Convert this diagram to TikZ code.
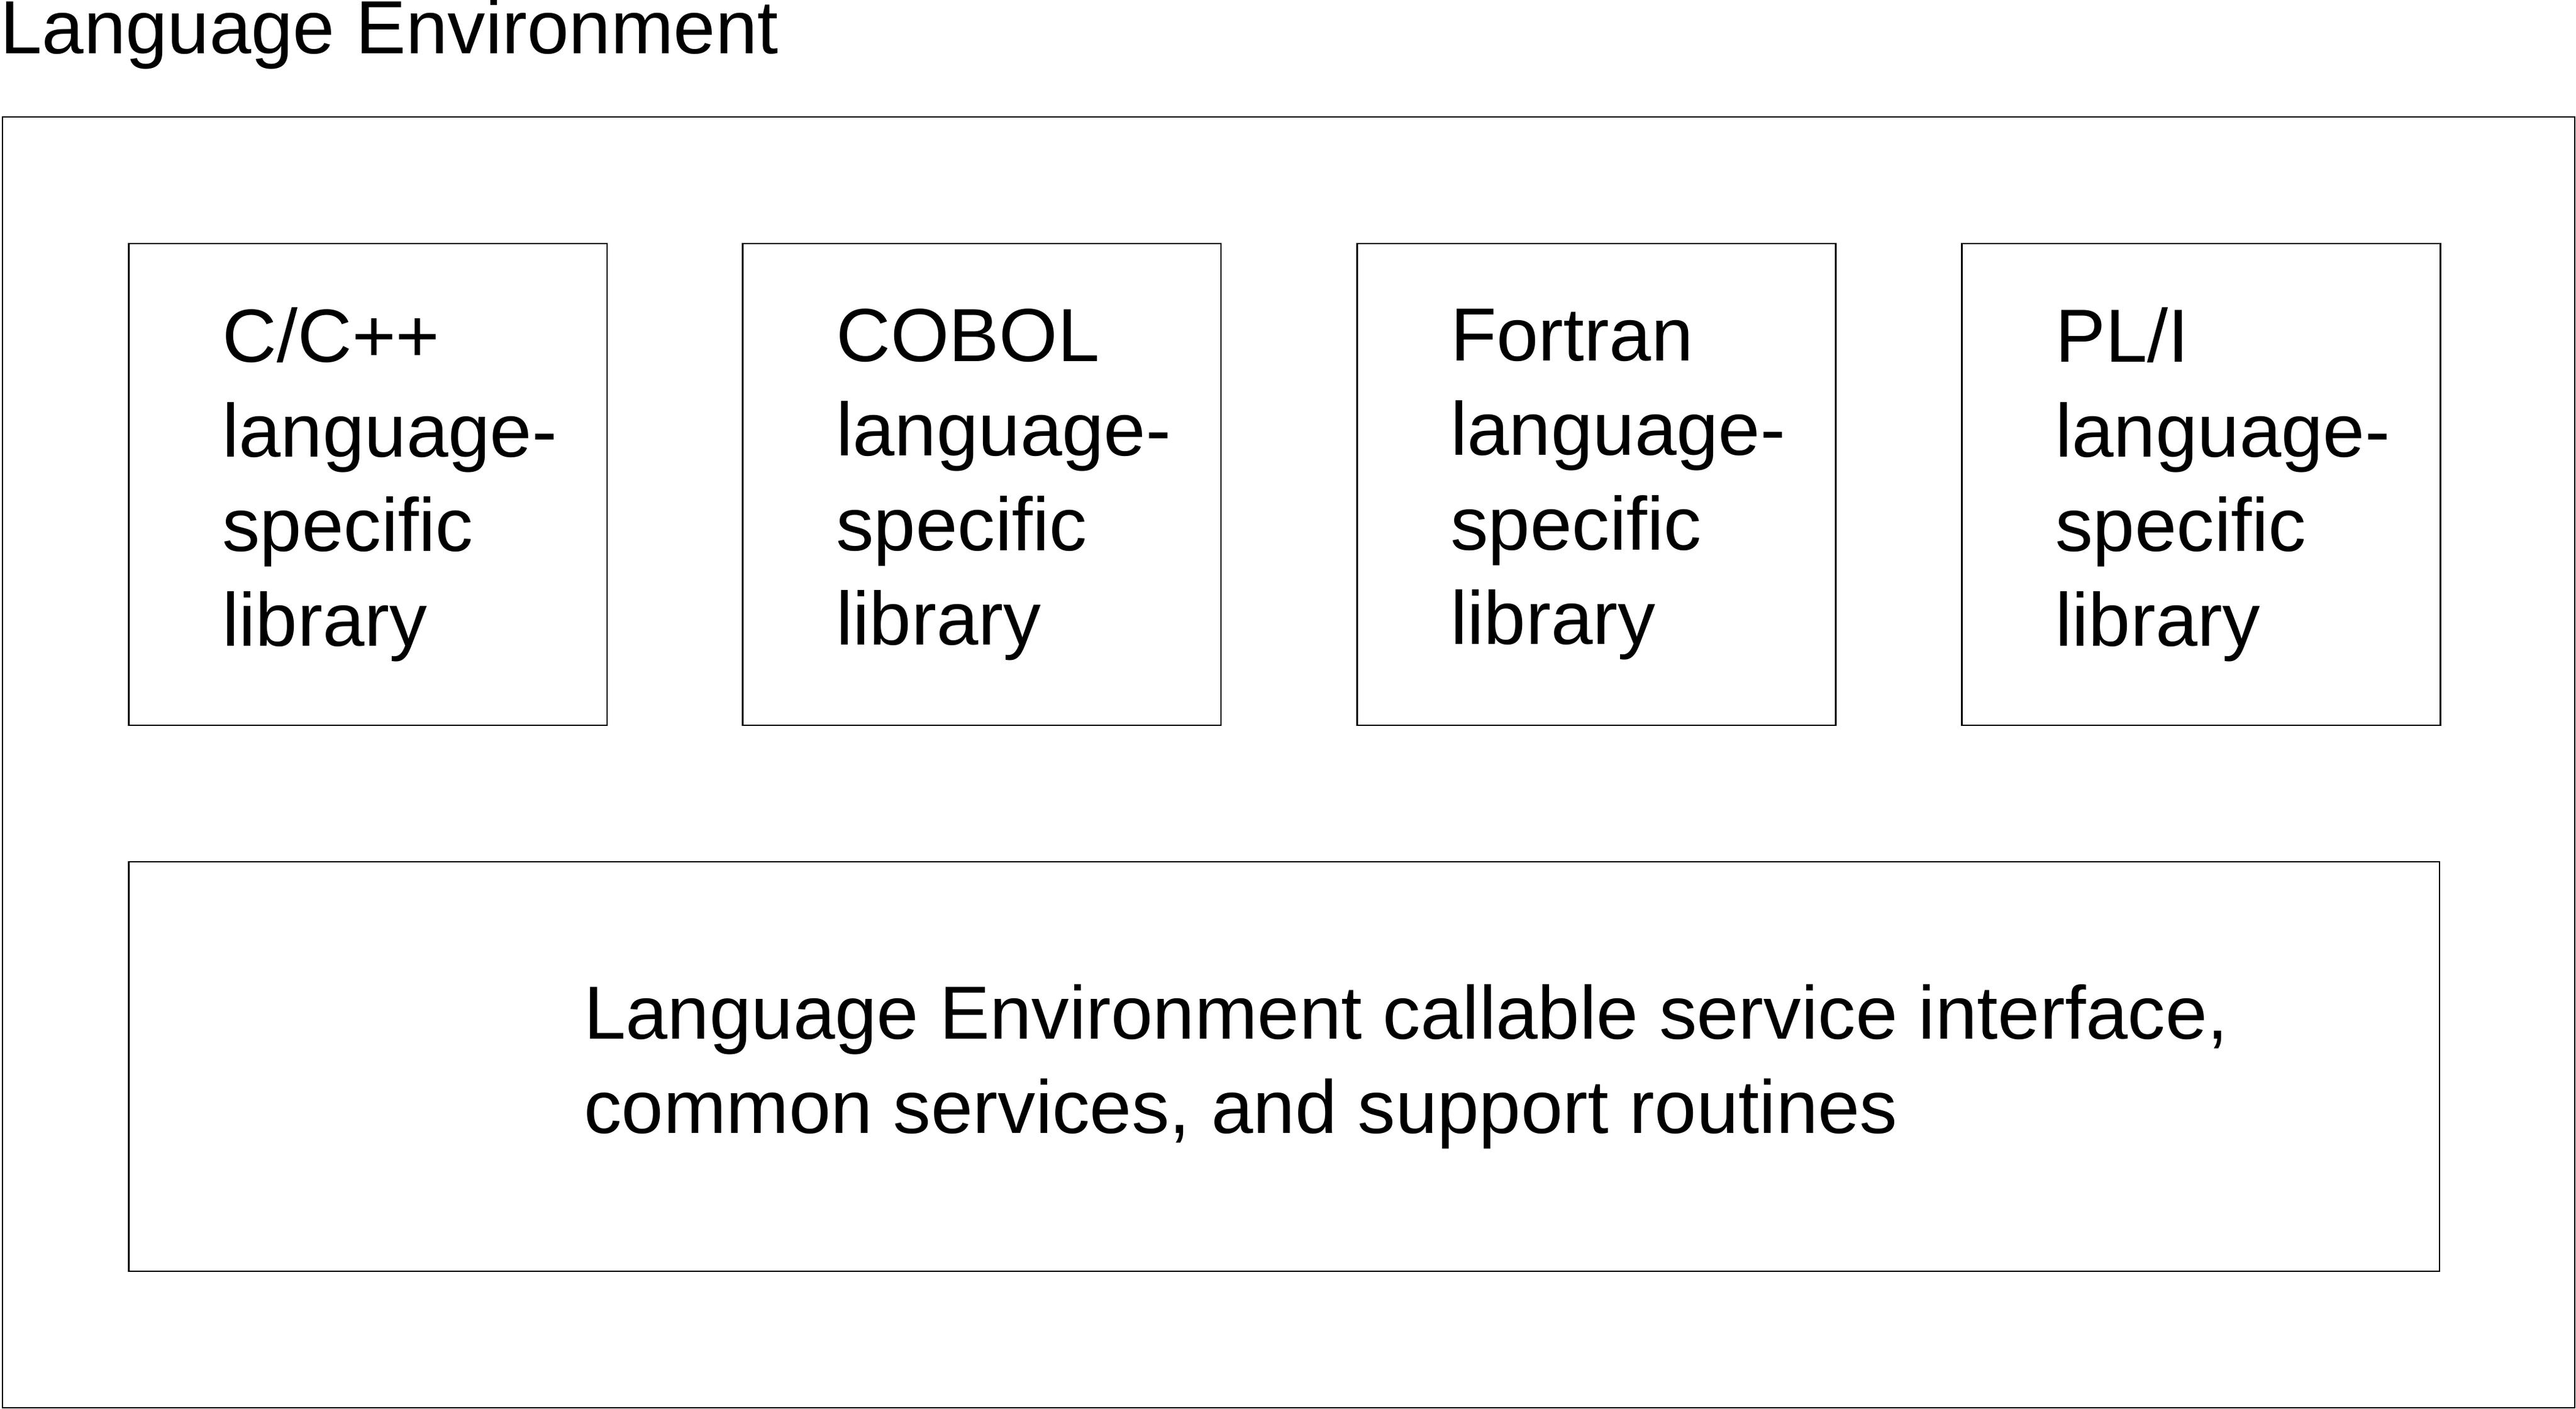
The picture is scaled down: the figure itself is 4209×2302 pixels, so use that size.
\documentclass[tikz,border=0pt]{standalone}
\usepackage{fontspec}
\setmainfont{Liberation Sans}

\begin{document}
\begin{tikzpicture}[x=0.1pt, y=-0.1pt, line width=0.25pt,
		box/.style={draw, anchor=north west, inner sep=0pt},
		lib/.style={box, minimum width=78.2pt, minimum height=78.7pt},
		txt/.style={anchor=west, align=left, inner sep=0pt, font=\fontsize{12.3pt}{15.45pt}\selectfont}]
	\useasboundingbox (0,0) rectangle (4209,2302);
	\node[txt, anchor=base west] (title) at (-1,88) {Language Environment};
	\node[box, minimum width=420.3pt, minimum height=210.9pt] (outer) at (3,190) {};
	% language-specific libraries
	\node[lib] (cpp) at (209,397) {};
	\node[lib] (cobol) at (1212,397) {};
	\node[lib] (fortran) at (2216,397) {};
	\node[lib] (pli) at (3204,397) {};
	\node[txt] (cpptxt) at ([xshift=15.3pt]cpp.west) {C/C++\\language-\\specific\\library};
	\node[txt] (coboltxt) at ([xshift=15.3pt]cobol.west) {COBOL\\language-\\specific\\library};
	\node[txt] (fortrantxt) at ([xshift=15.3pt]fortran.west) {Fortran\\language-\\specific\\library};
	\node[txt] (plitxt) at ([xshift=15.3pt]pli.west) {PL/I\\language-\\specific\\library};
	% common layer
	\node[box, minimum width=377.6pt, minimum height=66.9pt] (common) at (209,1407) {};
	\node[txt] (commontxt) at ([xshift=74.4pt]common.west) {Language Environment callable service interface,\\common services, and support routines};
\end{tikzpicture}
\end{document}
